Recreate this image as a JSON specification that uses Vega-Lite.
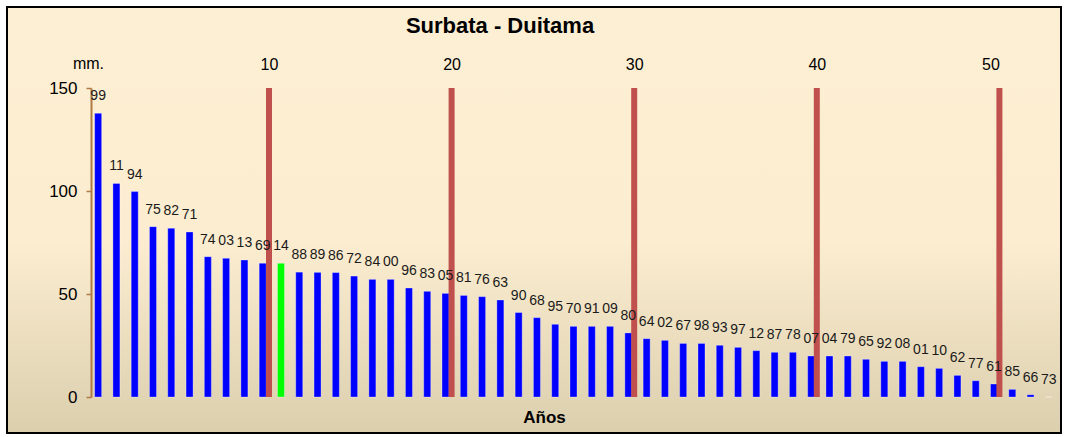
{
  "$schema": "https://vega.github.io/schema/vega-lite/v6.json",
  "width": 1054,
  "height": 426,
  "autosize": {"type": "none"},
  "padding": {"left": 7, "top": 7, "right": 6, "bottom": 4},
  "background": "white",
  "view": {
    "fill": {"gradient": "linear", "x1": 0, "y1": 0, "x2": 0, "y2": 1,
      "stops": [{"offset": 0, "color": "#fdefd3"}, {"offset": 0.55, "color": "#fcedd0"}, {"offset": 1, "color": "#dbcfae"}]},
    "stroke": "black",
    "strokeWidth": 2
  },
  "title": {
    "text": "Surbata - Duitama",
    "anchor": "middle",
    "frame": "group",
    "offset": 0,
    "dx": -34,
    "dy": 41,
    "baseline": "middle",
    "fontSize": 22,
    "fontWeight": "bold",
    "font": "Liberation Sans",
    "color": "black"
  },
  "config": {"font": "Liberation Sans", "axis": {"grid": false}},
  "datasets": {
    "rain": [
      {"year": "99", "mm": 137.7}, {"year": "11", "mm": 103.7}, {"year": "94", "mm": 99.7},
      {"year": "75", "mm": 82.7}, {"year": "82", "mm": 81.9}, {"year": "71", "mm": 80.1},
      {"year": "74", "mm": 68.1}, {"year": "03", "mm": 67.3}, {"year": "13", "mm": 66.5},
      {"year": "69", "mm": 64.9}, {"year": "14", "mm": 64.9}, {"year": "88", "mm": 60.6},
      {"year": "89", "mm": 60.5}, {"year": "86", "mm": 60.4}, {"year": "72", "mm": 58.7},
      {"year": "84", "mm": 57.1}, {"year": "00", "mm": 57.1}, {"year": "96", "mm": 52.9},
      {"year": "83", "mm": 51.3}, {"year": "05", "mm": 50.3}, {"year": "81", "mm": 49.3},
      {"year": "76", "mm": 48.7}, {"year": "63", "mm": 47.1}, {"year": "90", "mm": 41.0},
      {"year": "68", "mm": 38.5}, {"year": "95", "mm": 35.3}, {"year": "70", "mm": 34.3},
      {"year": "91", "mm": 34.3}, {"year": "09", "mm": 34.3}, {"year": "80", "mm": 31.1},
      {"year": "64", "mm": 28.3}, {"year": "02", "mm": 27.5}, {"year": "67", "mm": 26.0},
      {"year": "98", "mm": 26.0}, {"year": "93", "mm": 25.1}, {"year": "97", "mm": 24.1},
      {"year": "12", "mm": 22.5}, {"year": "87", "mm": 21.7}, {"year": "78", "mm": 21.7},
      {"year": "07", "mm": 19.9}, {"year": "04", "mm": 19.9}, {"year": "79", "mm": 19.9},
      {"year": "65", "mm": 18.3}, {"year": "92", "mm": 17.3}, {"year": "08", "mm": 17.3},
      {"year": "01", "mm": 14.7}, {"year": "10", "mm": 13.9}, {"year": "62", "mm": 10.5},
      {"year": "77", "mm": 7.9}, {"year": "61", "mm": 6.3}, {"year": "85", "mm": 3.7},
      {"year": "66", "mm": 1.1}, {"year": "73", "mm": 0}
    ],
    "marks": [{"pos": 10}, {"pos": 20}, {"pos": 30}, {"pos": 40}, {"pos": 50}]
  },
  "layer": [
    {
      "data": {"name": "rain"},
      "mark": {"type": "bar", "stroke": "white", "strokeOpacity": 0.3, "strokeWidth": 1},
      "encoding": {
        "x": {
          "field": "year", "type": "nominal", "sort": null,
          "scale": {"type": "band", "range": [82, 1051], "paddingInner": 0.617, "paddingOuter": 0.3085},
          "axis": {
            "labels": false, "ticks": false, "domain": false,
            "title": "Años", "titleFontSize": 17, "titleFontWeight": "bold",
            "titleX": 537, "titleY": -16, "titleBaseline": "middle", "titleAlign": "center",
            "titleColor": "black", "titleFont": "Liberation Sans"
          }
        },
        "y": {
          "field": "mm", "type": "quantitative",
          "scale": {"domain": [0, 150], "range": [390, 81], "nice": false, "zero": true},
          "axis": {
            "orient": "left", "offset": -84, "values": [0, 50, 100, 150],
            "domainColor": "#b07a45", "domainWidth": 2,
            "tickColor": "#b07a45", "tickWidth": 1.5, "tickSize": 5,
            "labelFontSize": 17, "labelColor": "black", "labelFont": "Liberation Sans", "labelPadding": 9,
            "title": "mm.", "titleAngle": 0, "titleX": -3, "titleY": 56,
            "titleAlign": "center", "titleBaseline": "middle",
            "titleFontSize": 16, "titleFontWeight": "normal", "titleFont": "Liberation Sans", "titleColor": "black"
          }
        },
        "color": {"condition": {"test": "datum.year === '14'", "value": "#00ff00"}, "value": "#0000ff"}
      }
    },
    {
      "data": {"name": "marks"},
      "mark": {"type": "rule", "color": "#c0504d", "strokeWidth": 6},
      "encoding": {
        "x": {
          "field": "pos", "type": "quantitative",
          "scale": {"domain": [0, 50], "range": [79.4, 992.4], "nice": false, "zero": false},
          "axis": {
            "orient": "top", "values": [10, 20, 30, 40, 50], "offset": -81,
            "domain": false, "ticks": false, "tickSize": 0, "labelPadding": 24,
            "labelBaseline": "middle", "labelFontSize": 16, "labelFont": "Liberation Sans",
            "labelColor": "black", "title": null, "format": "d"
          }
        },
        "y": {"datum": 0},
        "y2": {"datum": 150}
      }
    },
    {
      "data": {"name": "rain"},
      "mark": {"type": "text", "fontSize": 14, "font": "Liberation Sans", "color": "#1a1a1a", "dy": -17, "baseline": "middle"},
      "encoding": {
        "x": {
          "field": "year", "type": "nominal", "sort": null,
          "scale": {"type": "band", "range": [82, 1051], "paddingInner": 0.617, "paddingOuter": 0.3085},
          "axis": null
        },
        "y": {"field": "mm", "type": "quantitative"},
        "text": {"field": "year"}
      }
    }
  ],
  "resolve": {"scale": {"x": "independent"}, "axis": {"x": "independent"}}
}
